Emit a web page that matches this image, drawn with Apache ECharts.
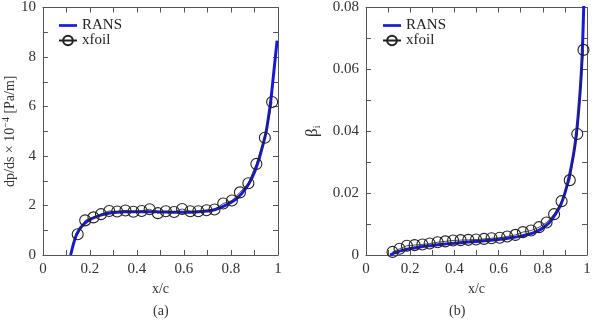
<!DOCTYPE html>
<html>
<head>
<meta charset="utf-8">
<script src="https://cdn.jsdelivr.net/npm/echarts@6/dist/echarts.min.js"></script>
<style>
  html, body { margin: 0; padding: 0; background: #fff; }
  #main { width: 594px; height: 320px; }
</style>
</head>
<body>
<div id="main"></div>
<script>
// ---- data ----
var xTicks = [0, 0.2, 0.4, 0.6, 0.8, 1];
var yTicksA = [0, 2, 4, 6, 8, 10];
var yTicksB = [0, 0.02, 0.04, 0.06, 0.08];

// (a) dp/ds x 1e-4
var ransAx = [0.118, 0.13, 0.14, 0.15, 0.16, 0.18, 0.2, 0.22, 0.25, 0.28, 0.3, 0.35, 0.4, 0.45, 0.5, 0.55, 0.6, 0.65, 0.7, 0.73, 0.76, 0.8, 0.83, 0.86, 0.88, 0.9, 0.92, 0.94, 0.95, 0.96, 0.97, 0.98, 0.99, 0.996];
var ransAy = [0, 0.45, 0.75, 0.95, 1.1, 1.3, 1.43, 1.52, 1.62, 1.69, 1.72, 1.75, 1.75, 1.75, 1.74, 1.73, 1.73, 1.74, 1.78, 1.83, 1.93, 2.12, 2.33, 2.65, 2.95, 3.35, 3.9, 4.6, 5.0, 5.6, 6.3, 7.2, 8.1, 8.66];
var xfoilAx = [0.148, 0.18, 0.215, 0.247, 0.282, 0.316, 0.351, 0.385, 0.42, 0.454, 0.489, 0.523, 0.558, 0.592, 0.627, 0.661, 0.696, 0.73, 0.767, 0.804, 0.838, 0.874, 0.908, 0.944, 0.975];
var xfoilAy = [0.84, 1.4, 1.52, 1.65, 1.78, 1.76, 1.8, 1.75, 1.78, 1.85, 1.69, 1.77, 1.74, 1.86, 1.77, 1.77, 1.81, 1.84, 2.08, 2.2, 2.53, 2.9, 3.68, 4.74, 6.18];

// (b) beta_i
var ransBx = [0.11, 0.12, 0.14, 0.16, 0.2, 0.25, 0.3, 0.35, 0.4, 0.45, 0.5, 0.55, 0.6, 0.65, 0.7, 0.75, 0.78, 0.8, 0.83, 0.86, 0.88, 0.9, 0.92, 0.94, 0.95, 0.96, 0.97, 0.975, 0.98, 0.985, 0.99];
var ransBy = [0, 0.0004, 0.0009, 0.0014, 0.0021, 0.0027, 0.0031, 0.0035, 0.0038, 0.0041, 0.0044, 0.0047, 0.005, 0.0055, 0.0061, 0.007, 0.0079, 0.0087, 0.0105, 0.0135, 0.016, 0.02, 0.0255, 0.033, 0.038, 0.045, 0.054, 0.06, 0.068, 0.08, 0.095];
var xfoilBx = [0.12, 0.152, 0.185, 0.22, 0.255, 0.288, 0.324, 0.359, 0.394, 0.428, 0.463, 0.498, 0.534, 0.568, 0.605, 0.639, 0.676, 0.71, 0.747, 0.783, 0.817, 0.851, 0.885, 0.922, 0.956, 0.984];
var xfoilBy = [0.001, 0.002, 0.003, 0.0032, 0.0034, 0.0037, 0.0041, 0.0044, 0.0047, 0.0048, 0.0049, 0.005, 0.0052, 0.0054, 0.0056, 0.006, 0.0065, 0.0074, 0.0079, 0.009, 0.0105, 0.0132, 0.0174, 0.0242, 0.0391, 0.0663];

function pairs(xs, ys) {
    return xs.map(function (x, i) { return [x, ys[i]]; });
}

var font = 'Liberation Serif';
var blue = '#1a1ad6';
var axisGray = '#555';

function valueAxis(ticks, grid, pos, show, extra) {
    var a = {
        type: 'value',
        gridIndex: grid,
        position: pos,
        min: ticks[0],
        max: ticks[ticks.length - 1],
        interval: ticks[1] - ticks[0],
        axisLine: { show: true, onZero: false, lineStyle: { color: axisGray, width: 1 } },
        axisTick: { show: true, inside: true, length: 5, lineStyle: { color: axisGray } },
        minorTick: { show: true, splitNumber: 2, length: 5, lineStyle: { color: axisGray } },
        splitLine: { show: false },
        axisLabel: { show: show, color: '#333', fontFamily: font, fontSize: 15, margin: 7 }
    };
    for (var k in extra) a[k] = extra[k];
    return a;
}

function legendAt(left) {
    return {
        left: left, top: 13, orient: 'vertical', itemWidth: 18, itemHeight: 12, itemGap: 0,
        data: [
            { name: 'RANS', icon: 'path://M0,0H20V3H0Z' },
            { name: 'xfoil' }
        ],
        textStyle: { fontFamily: font, fontSize: 15, color: '#222' }
    };
}

var myChart = echarts.init(document.getElementById('main'));

var option = {
    animation: false,
    backgroundColor: '#fff',
    grid: [
        { left: 41, top: 7, width: 237, height: 248 },
        { left: 366, top: 7, width: 221, height: 248 }
    ],
    title: [
        { text: '(a)', left: 148, top: 299, textStyle: { fontFamily: font, fontSize: 14, fontWeight: 'normal', color: '#333' } },
        { text: '(b)', left: 444, top: 299, textStyle: { fontFamily: font, fontSize: 14, fontWeight: 'normal', color: '#333' } }
    ],
    legend: [legendAt(53), legendAt(377)],
    xAxis: [
        valueAxis(xTicks, 0, 'bottom', true, {
            name: 'x/c', nameLocation: 'middle', nameGap: 24,
            nameTextStyle: { fontFamily: font, fontSize: 14, color: '#333' }
        }),
        valueAxis(xTicks, 0, 'top', false, {}),
        valueAxis(xTicks, 1, 'bottom', true, {
            name: 'x/c', nameLocation: 'middle', nameGap: 24,
            nameTextStyle: { fontFamily: font, fontSize: 14, color: '#333' }
        }),
        valueAxis(xTicks, 1, 'top', false, {})
    ],
    yAxis: [
        valueAxis(yTicksA, 0, 'left', true, {
            name: 'dp/ds × 10{sup|−4} [Pa/m]', nameLocation: 'middle', nameGap: 23,
            nameTextStyle: {
                fontFamily: font, fontSize: 14, color: '#333',
                rich: { sup: { fontFamily: font, fontSize: 10, color: '#333', padding: [0, 0, 8, 0] } }
            }
        }),
        valueAxis(yTicksA, 0, 'right', false, {}),
        valueAxis(yTicksB, 1, 'left', true, {
            name: '{b|β}{sub|i}', nameLocation: 'middle', nameGap: 44,
            nameTextStyle: {
                fontFamily: font, fontSize: 15, color: '#333',
                rich: {
                    b: { fontFamily: font, fontSize: 17, color: '#333' },
                    sub: { fontFamily: font, fontSize: 10, color: '#333', padding: [8, 0, 0, 0] }
                }
            }
        }),
        valueAxis(yTicksB, 1, 'right', false, {})
    ],
    series: [
        {
            name: 'RANS', type: 'line', xAxisIndex: 0, yAxisIndex: 0,
            data: pairs(ransAx, ransAy), symbol: 'none', smooth: 0.3,
            lineStyle: { color: blue, width: 3 }, itemStyle: { color: blue }
        },
        {
            name: 'xfoil', type: 'line', xAxisIndex: 0, yAxisIndex: 0,
            data: pairs(xfoilAx, xfoilAy), symbol: 'circle', symbolSize: 11,
            lineStyle: { color: '#222', width: 0.8 },
            itemStyle: { color: 'rgba(0,0,0,0)', borderColor: '#222', borderWidth: 1.1 }
        },
        {
            name: 'RANS', type: 'line', xAxisIndex: 2, yAxisIndex: 2,
            data: pairs(ransBx, ransBy), symbol: 'none', smooth: 0.3,
            lineStyle: { color: blue, width: 3 }, itemStyle: { color: blue }
        },
        {
            name: 'xfoil', type: 'line', xAxisIndex: 2, yAxisIndex: 2,
            data: pairs(xfoilBx, xfoilBy), symbol: 'circle', symbolSize: 11,
            lineStyle: { color: '#222', width: 0.8 },
            itemStyle: { color: 'rgba(0,0,0,0)', borderColor: '#222', borderWidth: 1.1 }
        }
    ]
};
myChart.setOption(option);
</script>
</body>
</html>
